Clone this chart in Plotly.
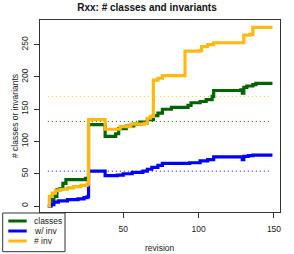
import plotly.graph_objects as go

# revision -> value at change points (held until next point)
classes_rev = [0, 2, 4, 6, 8, 10, 12, 25, 27, 36, 38, 44, 45, 47, 52, 57, 61, 66, 70, 73, 76, 82, 93, 95, 101, 105, 109, 110, 128, 129, 130, 132, 136, 138, 149]
classes_val = [0, 10, 15, 25, 27, 35, 41, 43, 126, 126, 108, 108, 112, 120, 124, 127, 130, 134, 140, 144, 150, 153, 156, 160, 162, 165, 170, 179, 180, 175, 184, 186, 188, 190, 190]

winv_rev = [0, 2, 4, 7, 13, 20, 24, 26, 27, 36, 38, 46, 50, 56, 63, 66, 69, 73, 76, 94, 101, 106, 110, 128, 129, 130, 133, 136, 149]
winv_val = [0, 2, 6, 8, 10, 11, 13, 14, 54, 54, 47, 48, 50, 52, 54, 57, 60, 63, 66, 67, 70, 72, 76, 76, 72, 77, 78, 79, 79]

ninv_rev = [0, 1, 3, 5, 8, 13, 17, 22, 26, 27, 36, 38, 48, 55, 64, 66, 68, 70, 73, 76, 89, 91, 101, 102, 106, 110, 128, 130, 134, 136, 149]
ninv_val = [0, 15, 20, 24, 26, 28, 30, 32, 34, 134, 134, 119, 123, 127, 128, 136, 139, 195, 198, 202, 202, 240, 241, 247, 250, 253, 253, 265, 266, 277, 277]

ref_rev = [0, 148]
ref_classes = [131, 131]
ref_winv = [54, 54]
ref_ninv = [170, 170]

series_names = ["classes", "w/ inv", "# inv"]
colors = ["#006400", "#0000FF", "#FFB90F"]

x_ticks = [50, 100, 150]
y_ticks = [0, 50, 100, 150, 200, 250]

FONT = "Liberation Sans, Arial, sans-serif"

fig = go.Figure()
for xs, ys, c in [(ref_rev, ref_classes, colors[0]), (ref_rev, ref_winv, colors[1]), (ref_rev, ref_ninv, colors[2])]:
    fig.add_trace(go.Scatter(x=xs, y=ys, mode="lines", line=dict(color=c, width=1, dash="1px,3px"),
                             showlegend=False, hoverinfo="skip"))

for xs, ys, c, n in [(classes_rev, classes_val, colors[0], series_names[0]),
                     (winv_rev, winv_val, colors[1], series_names[1]),
                     (ninv_rev, ninv_val, colors[2], series_names[2])]:
    fig.add_trace(go.Scatter(x=xs, y=ys, mode="lines", name=n,
                             line=dict(color=c, width=3.2, shape="hv"), showlegend=False))

L, R, T, B = 40, 14, 20, 42
W, H = 294, 254
pw = W - L - R
ph = H - T - B

def px(x):
    return (x - L) / pw

def py(y):
    return (H - B - y) / ph

shapes = [
    dict(type="rect", xref="paper", yref="paper", x0=px(2.7), x1=px(65), y0=py(251.7), y1=py(213),
         fillcolor="white", line=dict(color="#333", width=1), layer="above"),
]
annotations = []
rows = [221, 231, 241]
for name, c, ry in zip(series_names, colors, rows):
    shapes.append(dict(type="line", xref="paper", yref="paper", x0=px(8.3), x1=px(26.7), y0=py(ry), y1=py(ry),
                       line=dict(color=c, width=3), layer="above"))
    annotations.append(dict(text=name, xref="paper", yref="paper", x=px(32), y=py(ry), xanchor="left",
                            yanchor="middle", showarrow=False, font=dict(family=FONT, size=8.5, color="#222")))

annotations.append(dict(text="revision", xref="paper", yref="paper", x=0.5, y=py(248), xanchor="center",
                        yanchor="middle", showarrow=False, font=dict(family=FONT, size=8.5, color="#222")))
annotations.append(dict(text="# classes or invariants", xref="paper", yref="paper", x=px(15), y=py(116),
                        xanchor="center", yanchor="middle", textangle=-90, showarrow=False,
                        font=dict(family=FONT, size=8.5, color="#222")))

fig.update_layout(
    width=W, height=H,
    margin=dict(l=L, r=R, t=T, b=B),
    paper_bgcolor="white", plot_bgcolor="white",
    title=dict(text="<b>Rxx: # classes and invariants</b>", x=px(160), xanchor="center",
               y=1 - 7.5 / H, yanchor="middle", font=dict(family=FONT, size=10, color="#111")),
    shapes=shapes, annotations=annotations,
    showlegend=False,
)
fig.update_xaxes(range=[-5.2, 154], tickvals=x_ticks, showgrid=False, zeroline=False,
                 showline=True, mirror=True, linecolor="#333", linewidth=1,
                 ticks="outside", ticklen=5, tickcolor="#333", ticklabelstandoff=4,
                 tickfont=dict(family=FONT, size=8.5, color="#222"))
fig.update_yaxes(range=[-9.3, 288.3], tickvals=y_ticks, showgrid=False, zeroline=False,
                 showline=True, mirror=True, linecolor="#333", linewidth=1,
                 ticks="outside", ticklen=5, tickcolor="#333", tickangle=-90, ticklabelstandoff=3,
                 tickfont=dict(family=FONT, size=8.5, color="#222"))

fig.write_html("out.html", config={"displayModeBar": False},
               post_script="document.body.style.margin='0';document.body.style.overflow='hidden';")
